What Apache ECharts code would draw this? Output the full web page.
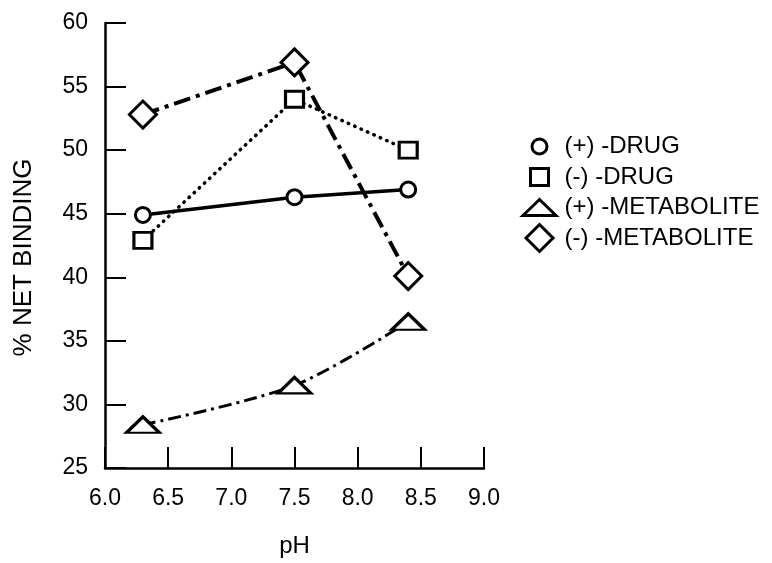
<!DOCTYPE html>
<html style="height: 100%" lang="en">
<head>
    <meta charset="UTF-8">
    <title>% Net Binding vs pH</title>
</head>
<body style="height: 100%; margin: 0; background: #fff">
<div id="main" style="width: 772px; height: 563px"></div>

<script src="https://cdn.jsdelivr.net/npm/echarts@6/dist/echarts.min.js"></script>
<script type="text/javascript">
    // data
    var phValues = [6.3, 7.5, 8.4];
    var plusDrug = [44.9, 46.3, 46.9];
    var minusDrug = [42.9, 54.0, 50.0];
    var plusMetabolite = [28.4, 31.5, 36.5];
    var minusMetabolite = [52.8, 56.9, 40.1];
    var seriesNames = ['(+) -DRUG', '(-) -DRUG', '(+) -METABOLITE', '(-) -METABOLITE'];
    var xTicks = [6.0, 6.5, 7.0, 7.5, 8.0, 8.5, 9.0];

    var font = 'Liberation Sans, Arial, Helvetica, sans-serif';

    function pairs(ys) {
        return phValues.map(function (x, i) { return [x, ys[i]]; });
    }

    // legend icons: 40x30 box, margin points keep the symbols at their own size
    var legendIcons = [
        'path://M0 0M40 30M27.5 15A7.5 7.5 0 1 1 12.5 15A7.5 7.5 0 1 1 27.5 15Z',
        'path://M0 0M40 30M11 6.5L29 6.5L29 23.5L11 23.5Z',
        'path://M0 0M40 30M3.5 23L20 7L36.5 23Z',
        'path://M0 0M40 30M20 1.5L33.5 15L20 28.5L6.5 15Z'
    ];

    var marker = {color: '#fff', borderColor: '#000', borderWidth: 3};

    var myChart = echarts.init(document.getElementById('main'));

    var option = {
        backgroundColor: '#fff',
        animation: false,
        grid: {left: 105, right: 288, top: 23, bottom: 95},
        legend: {
            orient: 'vertical',
            left: 513,
            top: 125,
            itemWidth: 40,
            itemHeight: 30,
            itemGap: -2.5,
            selectedMode: false,
            itemStyle: {color: '#fff', borderColor: '#000', borderWidth: 3},
            textStyle: {color: '#000', fontSize: 24, lineHeight: 30, fontFamily: font},
            data: seriesNames.map(function (n, i) { return {name: n, icon: legendIcons[i]}; })
        },
        xAxis: {
            type: 'value',
            min: 6.0,
            max: 9.0,
            interval: 0.5,
            name: 'pH',
            nameLocation: 'middle',
            nameGap: 66,
            nameTextStyle: {color: '#000', fontSize: 24, fontFamily: font},
            axisLine: {lineStyle: {color: '#000', width: 2.5}},
            axisTick: {inside: true, length: 21, lineStyle: {color: '#000', width: 2}},
            axisLabel: {
                color: '#000', fontSize: 23, fontFamily: font, margin: 19,
                formatter: function (v) { return xTicks.indexOf(v) >= 0 ? v.toFixed(1) : ''; }
            },
            splitLine: {show: false}
        },
        yAxis: {
            type: 'value',
            min: 25,
            max: 60,
            interval: 5,
            name: '% NET BINDING',
            nameLocation: 'middle',
            nameGap: 68,
            nameRotate: 90,
            nameTextStyle: {color: '#000', fontSize: 26, fontFamily: font, padding: [0, 24, 0, 0]},
            axisLine: {lineStyle: {color: '#000', width: 2.5}},
            axisTick: {inside: true, length: 21, lineStyle: {color: '#000', width: 2}},
            axisLabel: {color: '#000', fontSize: 23, fontFamily: font, margin: 17},
            splitLine: {show: false}
        },
        series: [
            {
                name: seriesNames[0],
                type: 'line',
                data: pairs(plusDrug),
                symbol: 'circle',
                symbolSize: 15,
                itemStyle: marker,
                lineStyle: {color: '#000', width: 3.5, type: 'solid'},
                z: 3
            },
            {
                name: seriesNames[1],
                type: 'line',
                data: pairs(minusDrug),
                symbol: 'rect',
                symbolSize: [18, 16],
                itemStyle: marker,
                lineStyle: {color: '#000', width: 3.5, type: [0.5, 6.5], cap: 'round'},
                z: 4
            },
            {
                name: seriesNames[2],
                type: 'line',
                data: pairs(plusMetabolite),
                smooth: 0.3,
                symbol: 'triangle',
                symbolSize: [33, 16],
                itemStyle: marker,
                lineStyle: {color: '#000', width: 3, type: [13, 5, 3, 5]},
                z: 2
            },
            {
                name: seriesNames[3],
                type: 'line',
                data: pairs(minusMetabolite),
                symbol: 'diamond',
                symbolSize: 27,
                itemStyle: marker,
                lineStyle: {color: '#000', width: 4, type: [17, 6, 4, 6]},
                z: 5
            }
        ]
    };

    myChart.setOption(option);
</script>
</body>
</html>
